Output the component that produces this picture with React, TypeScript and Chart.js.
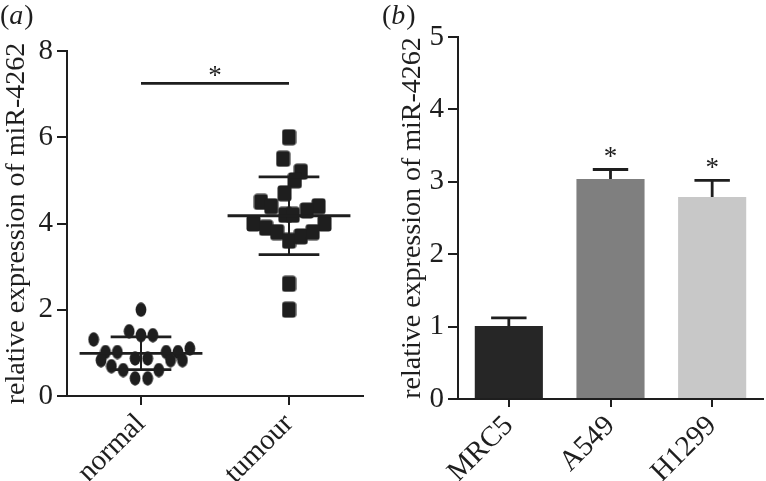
import React, { useEffect, useRef } from "react";
import { Chart, registerables } from "chart.js";

Chart.register(...registerables);

const FONT = "'Liberation Serif', 'Times New Roman', serif";
const INK = "#1e1e1e";

// ---------- panel (a): dot plot ----------
const groupLabels = ["normal", "tumour"];
const normalOffset = [0, -0.08, 0, 0.08, -0.32, -0.24, -0.16, -0.27, -0.2, -0.12, -0.04, 0.045, -0.04, 0.045, 0.12, 0.17, 0.25, 0.2, 0.28, 0.33];
const normalValues = [2.0, 1.5, 1.41, 1.41, 1.31, 1.02, 1.02, 0.83, 0.69, 0.6, 0.87, 0.87, 0.41, 0.41, 0.6, 1.02, 1.02, 0.83, 0.83, 1.1];
const tumourOffset = [0, -0.04, 0.08, 0.04, -0.03, -0.19, -0.12, 0.2, 0.12, -0.025, 0.025, -0.24, 0.24, -0.155, -0.08, 0, 0.08, 0.16, 0, 0];
const tumourValues = [6.0, 5.5, 5.2, 5.0, 4.7, 4.5, 4.4, 4.4, 4.3, 4.2, 4.2, 4.0, 4.0, 3.9, 3.8, 3.6, 3.7, 3.8, 2.6, 2.0];
const groupMeans = [0.99, 4.18];
const groupSD = [0.38, 0.9];
const sigLevelA = 7.25;
const yMaxA = 8;
const yStepA = 2;

// ---------- panel (b): bar chart ----------
const cellLines = ["MRC5", "A549", "H1299"];
const expression = [1.01, 3.04, 2.79];
const expressionErr = [0.11, 0.13, 0.23];
const significant = [false, true, true];
const barColors = ["#262626", "#7f7f7f", "#c8c8c8"];
const yMaxB = 5;
const yStepB = 1;

const yTitle = "relative expression of miR-4262";

function makeEllipse(): HTMLCanvasElement {
  const c = document.createElement("canvas");
  c.width = 12;
  c.height = 15;
  const g = c.getContext("2d")!;
  g.fillStyle = INK;
  g.beginPath();
  g.ellipse(6, 7.5, 5.4, 7.2, 0, 0, Math.PI * 2);
  g.fill();
  return c;
}

function makeRoundRect(): HTMLCanvasElement {
  const c = document.createElement("canvas");
  c.width = 15;
  c.height = 17;
  const g = c.getContext("2d")!;
  g.fillStyle = INK;
  g.beginPath();
  (g as any).roundRect(0.5, 0.5, 14, 16, 3);
  g.fill();
  return c;
}

function panelLabel(letter: string, x: number) {
  return {
    id: "panelLabel" + letter,
    afterDraw(chart: any) {
      const ctx = chart.ctx;
      ctx.save();
      ctx.fillStyle = INK;
      ctx.textBaseline = "alphabetic";
      ctx.textAlign = "left";
      const y = 24;
      let cx = x;
      ctx.font = `28px ${FONT}`;
      ctx.fillText("(", cx, y);
      cx += ctx.measureText("(").width;
      ctx.font = `italic 28px ${FONT}`;
      ctx.fillText(letter, cx, y);
      cx += ctx.measureText(letter).width + 1;
      ctx.font = `28px ${FONT}`;
      ctx.fillText(")", cx, y);
      ctx.restore();
    },
  };
}

function lineDs(points: { x: number; y: number }[], width = 2.5) {
  return {
    type: "line" as const,
    data: points,
    showLine: true,
    borderColor: INK,
    borderWidth: width,
    pointRadius: 0,
    fill: false,
  };
}

function PanelA() {
  const ref = useRef<HTMLCanvasElement>(null);
  useEffect(() => {
    const ellipse = makeEllipse();
    const rrect = makeRoundRect();
    const meanHalf = 0.415;
    const sdHalf = 0.205;
    const lines: any[] = [];
    groupMeans.forEach((m, i) => {
      const sd = groupSD[i];
      lines.push(lineDs([{ x: i - meanHalf, y: m }, { x: i + meanHalf, y: m }], 2.8));
      lines.push(lineDs([{ x: i - sdHalf, y: m + sd }, { x: i + sdHalf, y: m + sd }], 2.8));
      lines.push(lineDs([{ x: i - sdHalf, y: m - sd }, { x: i + sdHalf, y: m - sd }], 2.8));
      lines.push(lineDs([{ x: i, y: m - sd }, { x: i, y: m + sd }], 2));
    });
    lines.push(lineDs([{ x: 0, y: sigLevelA }, { x: 1, y: sigLevelA }], 2.8));

    const starPlugin = {
      id: "starA",
      afterDraw(chart: any) {
        const ctx = chart.ctx;
        const xs = chart.scales.x;
        const ys = chart.scales.y;
        ctx.save();
        ctx.fillStyle = INK;
        ctx.font = `27px ${FONT}`;
        ctx.textAlign = "center";
        ctx.textBaseline = "alphabetic";
        ctx.fillText("*", xs.getPixelForValue(0.5), ys.getPixelForValue(sigLevelA) + 1);
        ctx.restore();
      },
    };

    const chart = new Chart(ref.current!, {
      type: "scatter",
      data: {
        datasets: [
          ...lines,
          {
            data: normalValues.map((v, i) => ({ x: 0 + normalOffset[i], y: v })),
            pointStyle: ellipse as any,
            pointRadius: 6,
            backgroundColor: INK,
          },
          {
            data: tumourValues.map((v, i) => ({ x: 1 + tumourOffset[i], y: v })),
            pointStyle: rrect as any,
            pointRadius: 7,
            backgroundColor: INK,
          },
        ] as any,
      },
      options: {
        responsive: false,
        animation: false,
        layout: { padding: { left: 0, top: 51, right: 17, bottom: 0 } },
        plugins: { legend: { display: false }, tooltip: { enabled: false } },
        scales: {
          x: {
            type: "linear",
            min: -0.5,
            max: 1.5,
            afterBuildTicks: (s: any) => {
              s.ticks = groupLabels.map((_, i) => ({ value: i }));
            },
            afterFit: (s: any) => {
              s.height = 85;
            },
            ticks: {
              autoSkip: false,
              minRotation: 45,
              maxRotation: 45,
              padding: 2,
              color: INK,
              font: { family: FONT, size: 29 },
              callback: (_v: any, i: number) => groupLabels[i],
            },
            grid: { drawOnChartArea: false, tickLength: 9, color: INK, lineWidth: 2 },
            border: { color: INK, width: 2 },
          },
          y: {
            min: 0,
            max: yMaxA,
            afterFit: (s: any) => {
              s.width = 67;
            },
            ticks: {
              stepSize: yStepA,
              padding: 4,
              color: INK,
              font: { family: FONT, size: 29 },
            },
            title: {
              display: true,
              text: yTitle,
              color: INK,
              padding: { top: 0, bottom: 0 },
              font: { family: FONT, size: 28 },
            },
            grid: { drawOnChartArea: false, tickLength: 10, color: INK, lineWidth: 2 },
            border: { color: INK, width: 2 },
          },
        },
      } as any,
      plugins: [panelLabel("a", 0), starPlugin],
    });
    return () => chart.destroy();
  }, []);
  return (
    <canvas
      ref={ref}
      width={380}
      height={481}
      style={{ position: "absolute", left: 0, top: 0, width: 380, height: 481, display: "block" }}
    />
  );
}

function PanelB() {
  const ref = useRef<HTMLCanvasElement>(null);
  useEffect(() => {
    const errPlugin = {
      id: "errB",
      afterDatasetsDraw(chart: any) {
        const ctx = chart.ctx;
        const ys = chart.scales.y;
        const meta = chart.getDatasetMeta(0);
        ctx.save();
        ctx.strokeStyle = INK;
        ctx.fillStyle = INK;
        ctx.lineWidth = 2.8;
        meta.data.forEach((bar: any, i: number) => {
          const x = bar.x;
          const yTop = ys.getPixelForValue(expression[i]);
          const yErr = ys.getPixelForValue(expression[i] + expressionErr[i]);
          const half = bar.width * 0.26;
          ctx.beginPath();
          ctx.moveTo(x, yTop);
          ctx.lineTo(x, yErr);
          ctx.moveTo(x - half, yErr);
          ctx.lineTo(x + half, yErr);
          ctx.stroke();
          if (significant[i]) {
            ctx.font = `27px ${FONT}`;
            ctx.textAlign = "center";
            ctx.textBaseline = "alphabetic";
            ctx.fillText("*", x, yErr - 4);
          }
        });
        ctx.restore();
      },
    };
    const chart = new Chart(ref.current!, {
      type: "bar",
      data: {
        labels: cellLines,
        datasets: [
          {
            data: expression,
            backgroundColor: barColors,
            borderWidth: 0,
            barPercentage: 0.67,
            categoryPercentage: 1,
          },
        ],
      },
      options: {
        responsive: false,
        animation: false,
        layout: { padding: { left: 16, top: 37, right: 3, bottom: 0 } },
        plugins: { legend: { display: false }, tooltip: { enabled: false } },
        scales: {
          x: {
            afterFit: (s: any) => {
              s.height = 82;
            },
            ticks: {
              autoSkip: false,
              minRotation: 45,
              maxRotation: 45,
              padding: 2,
              color: INK,
              font: { family: FONT, size: 29 },
            },
            grid: { offset: false, drawOnChartArea: false, tickLength: 8, color: INK, lineWidth: 2 },
            border: { color: INK, width: 2 },
          },
          y: {
            min: 0,
            max: yMaxB,
            afterFit: (s: any) => {
              s.width = 62;
            },
            ticks: {
              stepSize: yStepB,
              padding: 4,
              color: INK,
              font: { family: FONT, size: 29 },
            },
            title: {
              display: true,
              text: yTitle,
              color: INK,
              padding: { top: 0, bottom: 0 },
              font: { family: FONT, size: 28 },
            },
            grid: { drawOnChartArea: false, tickLength: 10, color: INK, lineWidth: 2 },
            border: { color: INK, width: 2 },
          },
        },
      } as any,
      plugins: [panelLabel("b", 2), errPlugin],
    });
    return () => chart.destroy();
  }, []);
  return (
    <canvas
      ref={ref}
      width={386}
      height={481}
      style={{ position: "absolute", left: 380, top: 0, width: 386, height: 481, display: "block" }}
    />
  );
}

export default function App() {
  return (
    <div style={{ position: "absolute", left: 0, top: 0, width: 766, height: 481, background: "#fff", overflow: "hidden" }}>
      <PanelA />
      <PanelB />
    </div>
  );
}
